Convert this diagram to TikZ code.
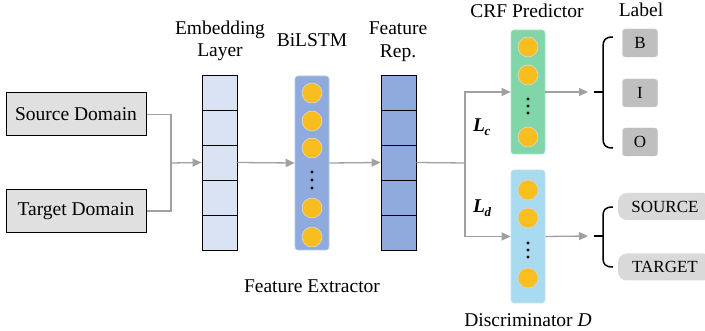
\documentclass[tikz,border=0pt]{standalone}
\usepackage{fontspec}
\setmainfont{Liberation Serif}
\usetikzlibrary{arrows.meta}
\definecolor{domgray}{HTML}{E0E0E0}
\definecolor{embfill}{HTML}{DAE3F3}
\definecolor{lstmfill}{HTML}{8FAADC}
\definecolor{lstmborder}{HTML}{B4C7E7}
\definecolor{unitfill}{HTML}{F8BD1E}
\definecolor{crffill}{HTML}{80D6A8}
\definecolor{discfill}{HTML}{A8DAF0}
\definecolor{lblfill}{HTML}{BFBFBF}
\definecolor{tagfill}{HTML}{D9D9D9}
\definecolor{arrgray}{HTML}{A0A0A0}
\begin{document}
\begin{tikzpicture}[x=1pt,y=-1pt,
  txt/.style={font=\rmfamily\fontsize{19.5}{22}\selectfont, inner sep=0},
  dombox/.style={draw=black, line width=1pt, fill=domgray, minimum width=140, minimum height=43, inner sep=0, font=\rmfamily\fontsize{19.5}{22}\selectfont},
  colbox/.style={draw=black, line width=0.9pt, minimum width=35, minimum height=175, inner sep=0},
  layerbox/.style={rounded corners=3pt, draw=lstmborder, line width=0.6pt, minimum width=34, inner sep=0},
  unitdot/.style={circle, fill=unitfill, draw=white!85!black, line width=0.6pt, minimum size=20, inner sep=0},
  cellline/.style={draw=black, line width=0.9pt},
  gline/.style={draw=arrgray, line width=1.3pt},
  garr/.style={draw=arrgray, line width=1.3pt, -{Triangle[length=9pt,width=8pt]}},
  bracepath/.style={draw=black, line width=1.5pt},
  lblbox/.style={rounded corners=3pt, fill=lblfill, draw=lblfill!90!white, minimum width=35, minimum height=28, inner sep=0, font=\rmfamily\fontsize{17}{20}\selectfont},
  tagbox/.style={rounded corners=9pt, fill=tagfill, minimum width=94, minimum height=27, inner sep=0, font=\rmfamily\fontsize{17}{20}\selectfont}
]
\useasboundingbox (0,0) rectangle (705,331);

% inputs
\node[dombox] (src) at (76,114.5) {Source Domain};
\node[dombox] (tgt) at (76,211) {Target Domain};
\coordinate (j) at (171,163);
\draw[gline] (src.east) -| (j);
\draw[gline] (tgt.east) -| (j);

% embedding layer
\node[colbox, fill=embfill] (emb) at (219.5,162.5) {};
\foreach \yy in {110,145,180,215} \draw[cellline] (202,\yy) -- (237,\yy);
\draw[garr] (j) -- (emb.west);
\node[txt, anchor=base] (embl1) at (220,35) {Embedding};
\node[txt, anchor=base] (embl2) at (220,57) {Layer};

% BiLSTM
\node[layerbox, fill=lstmfill, minimum height=174] (lstm) at (312,163) {};
\foreach \yy/\n in {93/a,121/b,148/c,208/d,237/e} \node[unitdot] (lstm\n) at (312,\yy) {};
\foreach \yy in {172,180,188} \fill (312,\yy) circle (1.6);
\node[txt, anchor=base] (lstml) at (312,47) {BiLSTM};
\draw[garr] (emb.east) -- (lstm.west);

% Feature rep
\node[colbox, fill=lstmfill] (fr) at (398.5,162.5) {};
\foreach \yy in {110,145,180,215} \draw[cellline] (381,\yy) -- (416,\yy);
\node[txt, anchor=base] (frl1) at (398,35) {Feature};
\node[txt, anchor=base] (frl2) at (398,58) {Rep.};
\draw[garr] (lstm.east) -- (fr.west);
\node[txt, anchor=base] (fex) at (312,293) {Feature Extractor};

% CRF predictor
\node[layerbox, fill=crffill, draw=crffill!70!white, minimum height=124] (crf) at (528,92) {};
\foreach \yy/\n in {47/a,75/b,137/c} \node[unitdot] (crf\n) at (528,\yy) {};
\foreach \yy in {99,106,113} \fill (528,\yy) circle (1.6);
\node[txt, anchor=base] (crfl) at (527,18) {CRF Predictor};

% Discriminator
\node[layerbox, fill=discfill, draw=discfill!70!white, minimum height=133] (disc) at (528,236.5) {};
\foreach \yy/\n in {190/a,218/b,278/c} \node[unitdot] (disc\n) at (528,\yy) {};
\foreach \yy in {243,250,257} \fill (528,\yy) circle (1.6);
\node[txt, anchor=base] (discl) at (528,327) {Discriminator \textit{D}};

% fork
\coordinate (f) at (465,163);
\draw[gline] (fr.east) -- (f);
\draw[garr] (f) |- (crf.west);
\draw[garr] (f) |- (disc.west);
\node[txt, anchor=base west] (lc) at (473,132) {\bfseries\itshape L\kern-0.5pt\raisebox{-0.35ex}{\fontsize{13}{13}\selectfont c}};
\node[txt, anchor=base west] (ld) at (473,213) {\bfseries\itshape L\kern-0.5pt\raisebox{-0.35ex}{\fontsize{13}{13}\selectfont d}};

% outputs of CRF
\coordinate (b1) at (588,92);
\draw[garr] (crf.east) -- (b1);
\draw[bracepath] (594,92) -- (603,92);
\draw[bracepath] (613,37) .. controls (605,37) and (603,40) .. (603,47) -- (603,138) .. controls (603,145) and (605,148) .. (613,148);
\node[lblbox] (lb) at (640,43) {B};
\node[lblbox] (li) at (640,93) {I};
\node[lblbox] (lo) at (640,142) {O};
\node[txt, anchor=base] (lblt) at (641,17) {Label};

% outputs of discriminator
\coordinate (b2) at (588,236);
\draw[garr] (disc.east) -- (b2);
\draw[bracepath] (594,236) -- (603,236);
\draw[bracepath] (613,207) .. controls (605,207) and (603,210) .. (603,216) -- (603,258) .. controls (603,264) and (605,267) .. (613,267);
\node[tagbox] (ts) at (665,206.5) {SOURCE};
\node[tagbox] (tt) at (665,267) {TARGET};
\end{tikzpicture}
\end{document}
